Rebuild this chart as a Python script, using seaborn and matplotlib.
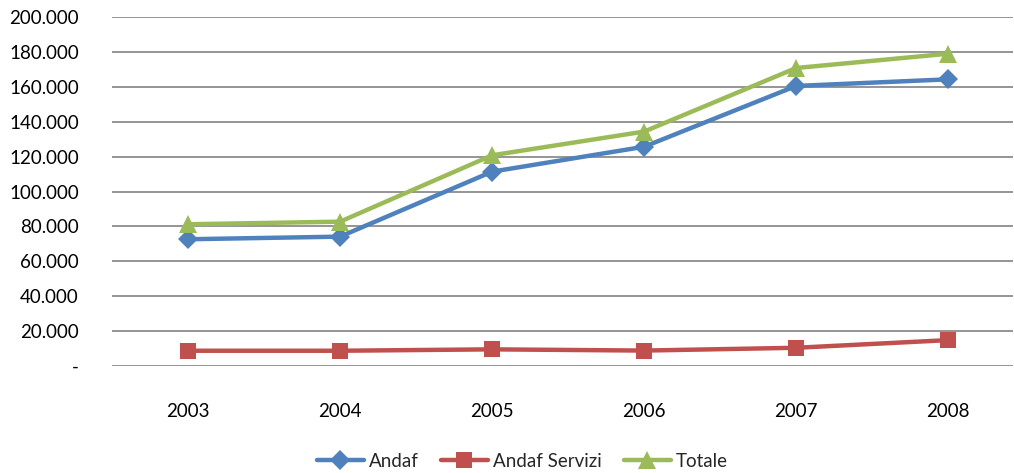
import numpy as np
import pandas as pd
import matplotlib
matplotlib.use('Agg')
import matplotlib.pyplot as plt
import seaborn as sns
from matplotlib.ticker import FuncFormatter

# Values
anni = ['2003', '2004', '2005', '2006', '2007', '2008']
andaf = [72600, 74100, 111400, 125700, 160600, 164400]
andaf_servizi = [8600, 8600, 9400, 8700, 10300, 14700]
totale = [81200, 82700, 120800, 134400, 170900, 179100]

df = pd.DataFrame({
    'Anno': anni * 3,
    'Valore': andaf + andaf_servizi + totale,
    'Serie': ['Andaf'] * 6 + ['Andaf Servizi'] * 6 + ['Totale'] * 6,
})

sns.set_style('white')
plt.rcParams['font.family'] = ['Lato', 'DejaVu Sans']

fig = plt.figure(figsize=(10.14, 4.73), dpi=100)
ax = fig.add_axes([0.1105, 0.2268, 0.889, 0.7366])

colori = {'Andaf': '#4F81BD', 'Andaf Servizi': '#C0504D', 'Totale': '#9BBB59'}
marker = {'Andaf': 'D', 'Andaf Servizi': 's', 'Totale': '^'}
msize = {'Andaf': 10, 'Andaf Servizi': 12, 'Totale': 13}

for serie in ['Andaf', 'Andaf Servizi', 'Totale']:
    sub = df[df['Serie'] == serie]
    sns.lineplot(data=sub, x='Anno', y='Valore', ax=ax, color=colori[serie],
                 marker=marker[serie], markersize=msize[serie], linewidth=3.2,
                 markeredgewidth=0, label=serie, zorder=3)

ax.set_ylim(0, 200000)
ax.set_yticks(np.arange(0, 200001, 20000))
ax.yaxis.set_major_formatter(FuncFormatter(
    lambda v, p: '-' if v == 0 else f'{int(v):,}'.replace(',', '.')))
ax.set_xlim(-0.5, 5.43)
ax.grid(axis='y', color='#8C8C8C', linewidth=1.3)
ax.grid(axis='x', visible=False)
for s in ax.spines.values():
    s.set_visible(False)
ax.tick_params(axis='y', length=0, pad=24, labelsize=13.5, colors='black')
ax.tick_params(axis='x', length=0, pad=27, labelsize=13.5, colors='black')
ax.set_xlabel('')
ax.set_ylabel('')

ax.legend(loc='center', bbox_to_anchor=(0.515, 0.025), bbox_transform=fig.transFigure,
          ncol=3, frameon=False, fontsize=13.5, handlelength=2.5,
          columnspacing=1.2, handletextpad=0.25)

fig.savefig('out.png', dpi=100)
